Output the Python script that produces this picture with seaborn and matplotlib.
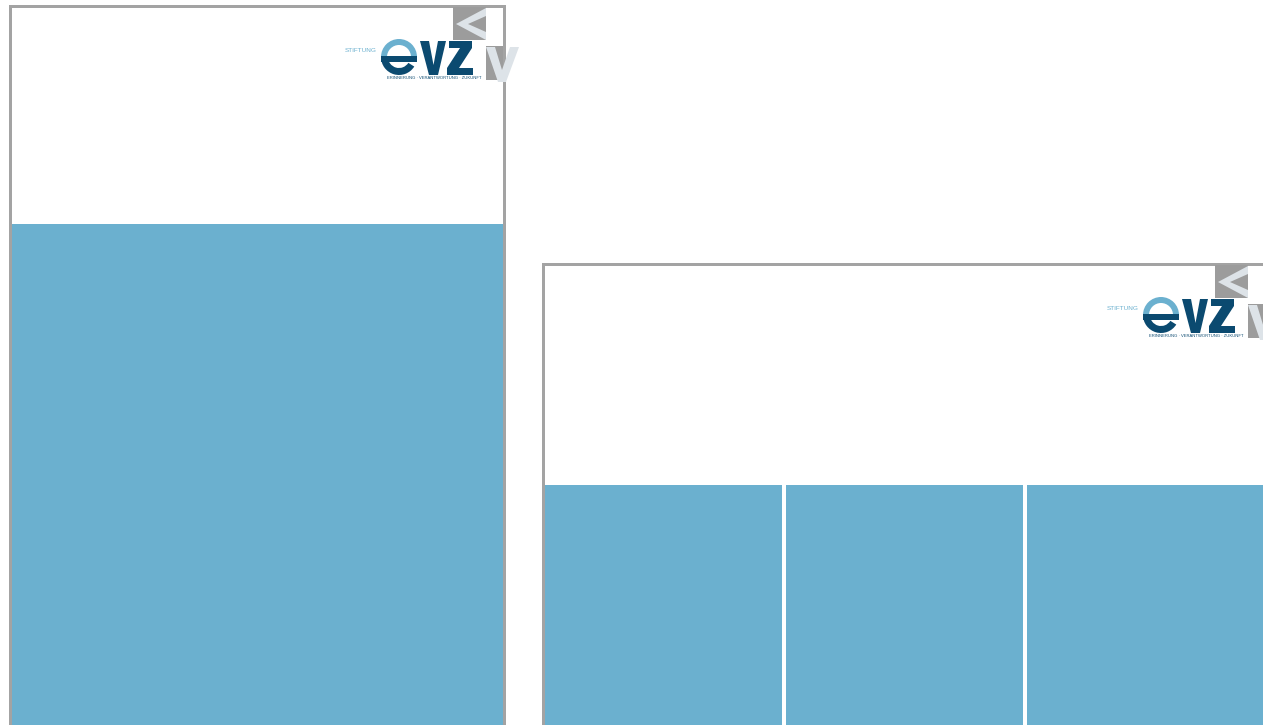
import numpy as np
import pandas as pd
import matplotlib
matplotlib.use("Agg")
import matplotlib.pyplot as plt
from matplotlib.patches import Rectangle, Polygon, Wedge
import seaborn as sns

# layout mock-up: two page formats, blue content blocks split into columns
PANEL1_COLS = ["Inhalt"]
PANEL1_FILL = [1.0]
PANEL2_COLS = ["Spalte 1", "Spalte 2", "Spalte 3"]
PANEL2_FILL = [1.0, 1.0, 1.0]

LOGO_WORD = "STIFTUNG"
LOGO_TAGLINE = "ERINNERUNG · VERANTWORTUNG · ZUKUNFT"

BLUE = "#6bb0cf"
DARK_BLUE = "#0b4a70"
BORDER = "#a3a3a3"
LOGO_GRAY = "#9c9c9c"
LOGO_LIGHT = "#dde3e8"

W, H = 1263, 725

sns.set_theme(style="white")
plt.rcParams['font.family'] = ['Liberation Sans', 'DejaVu Sans']

fig = plt.figure(figsize=(W / 100, H / 100), dpi=100)
bg = fig.add_axes([0, 0, 1, 1])
bg.set_xlim(0, W)
bg.set_ylim(H, 0)
bg.axis("off")


def panel(ax, x, y, w, h):
    ax.add_patch(Rectangle((x, y), w, h, facecolor=BORDER, edgecolor="none"))
    ax.add_patch(Rectangle((x + 3, y + 3), w - 6, h, facecolor="white", edgecolor="none"))


def logo(ax, ox, oy):
    # ox, oy = top-left of the gray "<" square
    def P(pts, **kw):
        ax.add_patch(Polygon([(ox + a, oy + b) for a, b in pts], closed=True, **kw))
    ax.add_patch(Rectangle((ox, oy), 33, 33, facecolor=LOGO_GRAY, edgecolor="none", zorder=3))
    P([(33, 1), (33, 9), (15, 17), (33, 25), (33, 33), (3, 17)],
      facecolor=LOGO_LIGHT, edgecolor="none", zorder=4)
    ax.add_patch(Rectangle((ox + 33, oy + 39), 17, 34, facecolor=LOGO_GRAY, edgecolor="none", zorder=3))
    P([(33, 40), (42, 40), (49, 63), (57, 40), (66, 40), (53, 75), (45, 75)],
      facecolor=LOGO_LIGHT, edgecolor="none", zorder=4)
    # "e"
    cx, cy, r = ox - 54, oy + 50, 18
    ax.add_patch(Wedge((cx, cy), r, 180, 360, width=6, facecolor=BLUE, edgecolor="none", zorder=3))
    ax.add_patch(Wedge((cx, cy), r, 32, 180, width=7, facecolor=DARK_BLUE, edgecolor="none", zorder=3))
    ax.add_patch(Rectangle((cx - r, cy - 1), 2 * r, 6, facecolor=DARK_BLUE, edgecolor="none", zorder=3))
    # "V"
    P([(-33, 34), (-24, 34), (-19.5, 58), (-15, 34), (-7, 34), (-15, 68), (-24, 68)],
      facecolor=DARK_BLUE, edgecolor="none", zorder=3)
    # "Z"
    P([(-4, 34), (19, 34), (19, 41), (6, 61), (20, 61), (20, 68), (-6, 68), (-6, 61), (7, 41), (-4, 41)],
      facecolor=DARK_BLUE, edgecolor="none", zorder=3)
    ax.text(ox - 76, oy + 43, LOGO_WORD, color=BLUE, fontsize=4.6, ha="right", va="center", zorder=3)
    ax.text(ox - 66, oy + 71, LOGO_TAGLINE, color=DARK_BLUE, fontsize=3.0, ha="left", va="center",
            zorder=2)


panel(bg, 9, 5, 497, 760)
panel(bg, 542, 263, 727, 500)
logo(bg, 453, 7)
logo(bg, 1215, 265)


def blocks(rect_px, cols, vals, width):
    x0, y0, x1, y1 = rect_px
    ax = fig.add_axes([x0 / W, 1 - y1 / H, (x1 - x0) / W, (y1 - y0) / H])
    df = pd.DataFrame({"col": cols, "fill": vals})
    sns.barplot(data=df, x="col", y="fill", color=BLUE, saturation=1, width=width,
                linewidth=0, edgecolor="none", ax=ax)
    ax.set_xlim(-0.5, len(cols) - 0.5)
    ax.set_ylim(0, 1)
    ax.patch.set_alpha(0)
    ax.axis("off")
    return ax


blocks((12, 224, 503, 725), PANEL1_COLS, PANEL1_FILL, 1.0)
blocks((543, 485, 543 + 3 * 241, 725), PANEL2_COLS, PANEL2_FILL, 237 / 241)

fig.savefig("out.png", dpi=100)
